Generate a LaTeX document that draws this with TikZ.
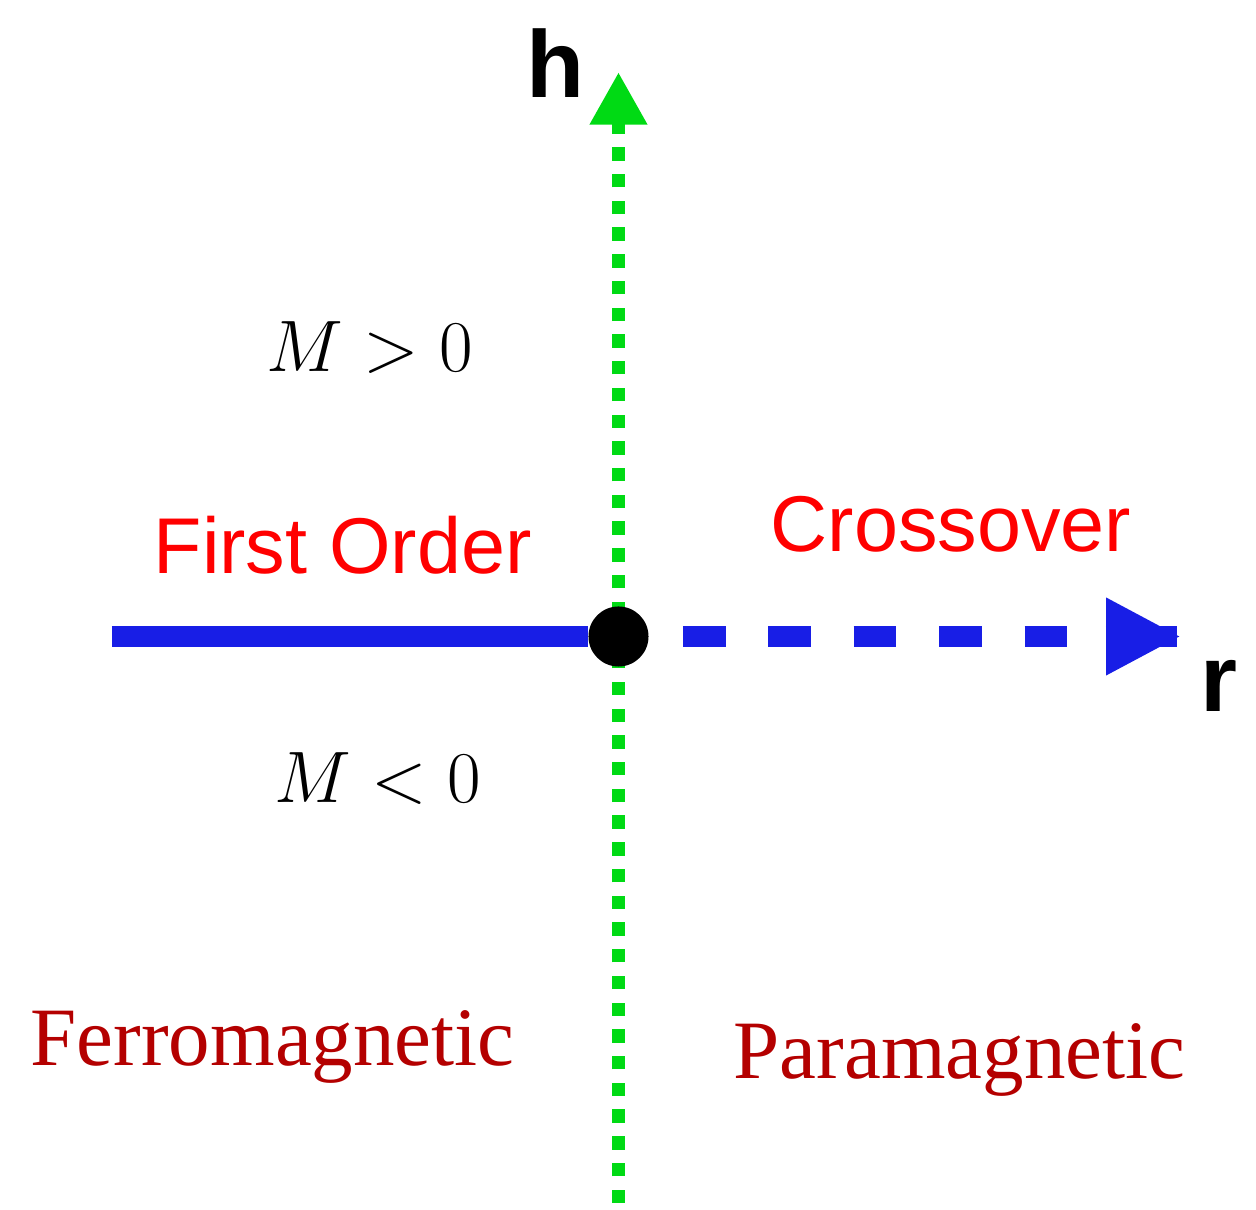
\documentclass[tikz,border=0pt]{standalone}
\usepackage{fontspec}
\newfontfamily\axisfont{Liberation Sans}
\newfontfamily\phasefont{Liberation Serif}
\usetikzlibrary{arrows.meta}
\definecolor{axisblue}{RGB}{24,30,230}
\definecolor{axisgreen}{RGB}{0,218,20}
\definecolor{phasered}{RGB}{180,0,0}
\tikzset{
  lbl/.style = {inner sep=0pt, anchor=base west},
  axis_lbl/.style = {lbl, black, font=\axisfont\bfseries\fontsize{27}{30}\selectfont},% h et r
  line_lbl/.style = {lbl, red, font=\axisfont\fontsize{22.5}{26}\selectfont},% nature de la ligne
  phase_lbl/.style = {lbl, phasered, font=\phasefont\fontsize{23.6}{27}\selectfont},% phases
  mag_lbl/.style = {lbl, black, font=\fontsize{19.3}{23}\selectfont},% aimantation
  crit_node/.style = {circle, fill=black, inner sep=0pt, minimum size=0.6cm},% point critique
  h_axis/.style = {axisgreen, line width=3.8pt, dash pattern=on 3.8pt off 3.8pt,
    -{Triangle[length=15pt, width=15.4pt]}},
  first_order_line/.style = {axisblue, line width=6.06pt},
  crossover_line/.style = {first_order_line, dash pattern=on 12.14pt off 12.14pt,
    dash phase=14.68pt, -{Triangle[length=21.3pt, width=20.5pt]}}
}
\begin{document}
\begin{tikzpicture}[x=0.01cm, y=-0.01cm]
  \useasboundingbox (0,0) rectangle (1256,1210);
  \coordinate (o) at (618.5,636.5);
  \coordinate (h_start) at (618.5,1203);
  \coordinate (h_end) at (618.5,72);
  \coordinate (fo_start) at (112,636.5);
  \coordinate (r_stub) at (1106,636.5);
  \coordinate (r_end) at (1181,636.5);
  % axe h
  \draw [h_axis] (h_start) -- (h_end);
  \node [crit_node] (crit) at (o) {};
  % axe r
  \draw [first_order_line] (fo_start) -- (crit);
  \draw [crossover_line] (crit) -- (r_end);
  \draw [first_order_line] (r_stub) -- ([xshift=-1]r_end);
  \node [axis_lbl] (lbl_h) at (526,98) {h};
  \node [axis_lbl] (lbl_r) at (1200,712) {r};
  \node [mag_lbl] (mag_up) at (266,372) {$M>0$};
  \node [mag_lbl] (mag_down) at (274,803) {$M<0$};
  \node [line_lbl] (first_order) at (153,574) {First Order};
  \node [line_lbl] (crossover) at (770,552) {Crossover};
  \node [phase_lbl] (ferro) at (30,1066) {Ferromagnetic};
  \node [phase_lbl] (para) at (733,1079) {Paramagnetic};
\end{tikzpicture}
\end{document}
